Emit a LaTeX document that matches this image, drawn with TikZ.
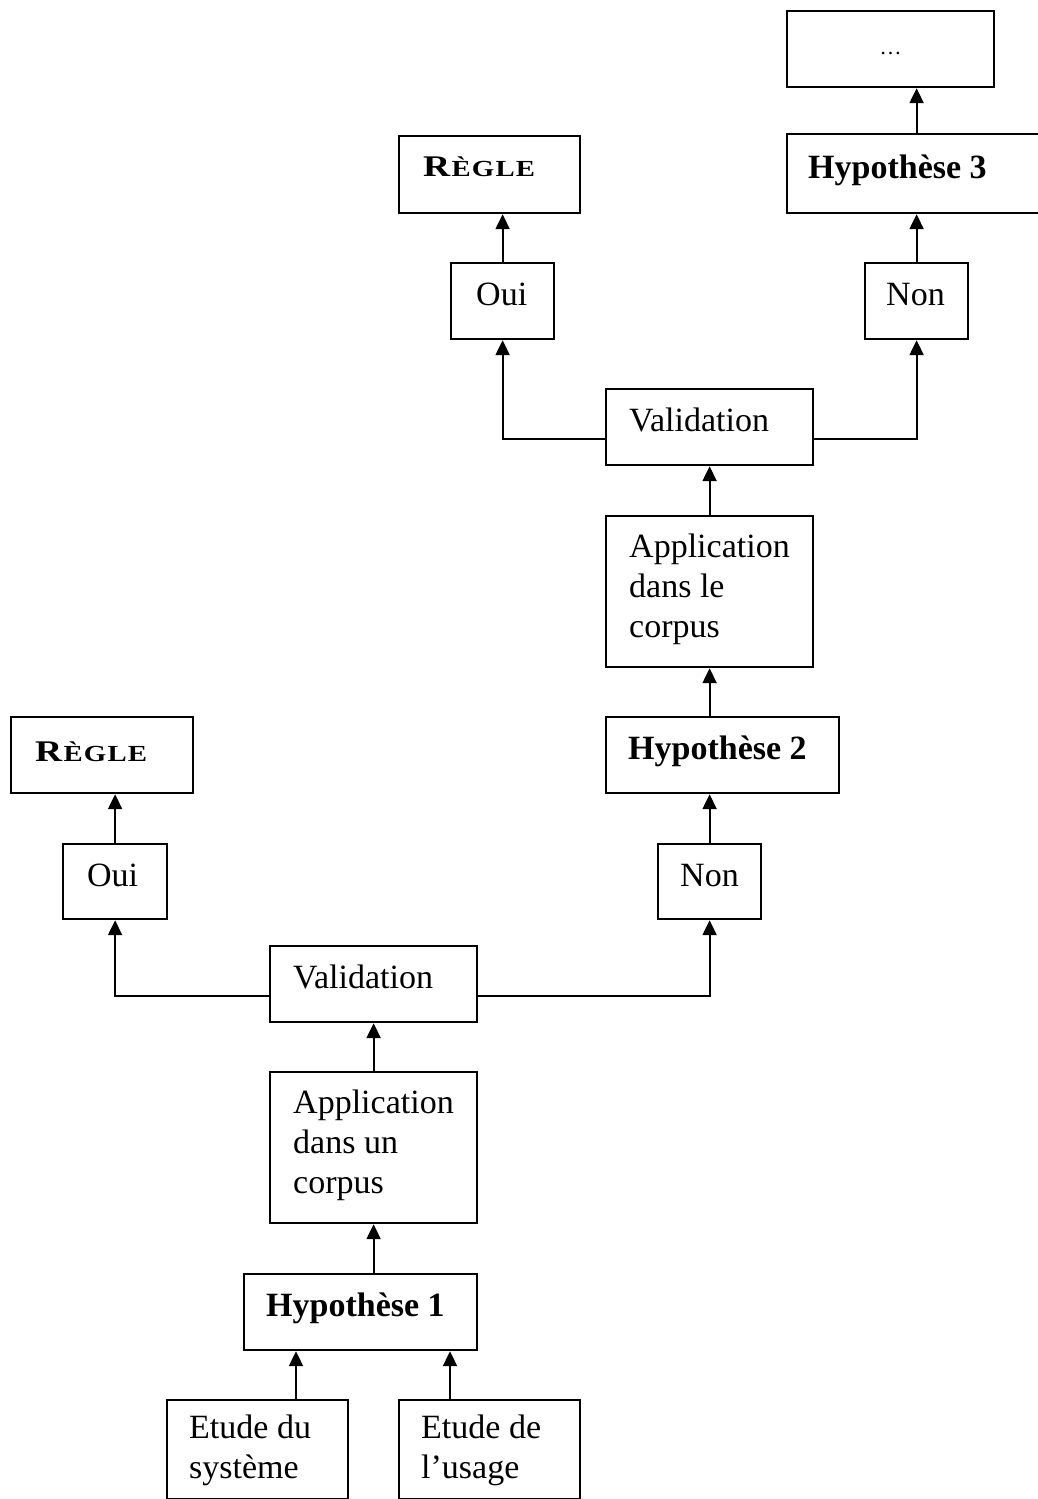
\documentclass[tikz,border=0pt]{standalone}
\usepackage{fontspec}
\usepackage{graphicx}
\setmainfont{Liberation Serif}
\usetikzlibrary{arrows.meta}
\newcommand\regletext{\scalebox{1.25}[1]{\bfseries\fontsize{30}{34}\selectfont R\kern1pt\fontsize{23}{27}\selectfont È\kern1pt G\kern1pt L\kern1pt E}}
\newcommand\lines[1]{\begin{tabular}[t]{@{}l@{}}#1\end{tabular}}
\begin{document}
\begin{tikzpicture}[x=1pt,y=-1pt,
  box/.style={draw, line width=2.2pt, inner sep=0pt, anchor=north west},
  txt/.style={anchor=base west, inner sep=0pt, font=\fontsize{34}{40}\selectfont},
  arr/.style={line width=2.2pt, -{Triangle[width=14pt,length=15pt]}}]
\useasboundingbox (0,0) rectangle (1038,1499);
% boxes
\node[box, minimum width=207pt, minimum height=76pt] (dots) at (786,10) {};
\node[box, minimum width=256pt, minimum height=79pt] (h3) at (786,133) {};
\node[box, minimum width=181pt, minimum height=77pt] (regle2) at (398,135) {};
\node[box, minimum width=103pt, minimum height=76pt] (oui2) at (450,262) {};
\node[box, minimum width=103pt, minimum height=76pt] (non2) at (864,262) {};
\node[box, minimum width=207pt, minimum height=76pt] (val2) at (605,388) {};
\node[box, minimum width=207pt, minimum height=151pt] (app2) at (605,515) {};
\node[box, minimum width=233pt, minimum height=76pt] (h2) at (605,716) {};
\node[box, minimum width=103pt, minimum height=75pt] (non1) at (657,843) {};
\node[box, minimum width=182pt, minimum height=76pt] (regle1) at (10,716) {};
\node[box, minimum width=104pt, minimum height=75pt] (oui1) at (62,843) {};
\node[box, minimum width=207pt, minimum height=76pt] (val1) at (269,945) {};
\node[box, minimum width=207pt, minimum height=151pt] (app1) at (269,1071) {};
\node[box, minimum width=233pt, minimum height=76pt] (h1) at (243,1273) {};
\node[box, minimum width=181pt, minimum height=99pt] (es) at (166,1399) {};
\node[box, minimum width=181pt, minimum height=99pt] (eu) at (398,1399) {};
% texts
\node[anchor=base, inner sep=0pt, font=\fontsize{22}{26}\selectfont] (dotst) at ([shift={(0,44)}]dots.north) {…};
\node[txt] (h3t) at ([shift={(22,45)}]h3.north west) {\bfseries Hypothèse 3};
\node[txt] (regle2t) at ([shift={(25,41)}]regle2.north west) {\regletext};
\node[txt] (oui2t) at ([shift={(26,43)}]oui2.north west) {Oui};
\node[txt] (non2t) at ([shift={(22,43)}]non2.north west) {Non};
\node[txt] (val2t) at ([shift={(24,43)}]val2.north west) {Validation};
\node[txt] (app2t) at ([shift={(24,42)}]app2.north west) {\lines{Application\\dans le\\corpus}};
\node[txt] (h2t) at ([shift={(23,43)}]h2.north west) {\bfseries Hypothèse 2};
\node[txt] (non1t) at ([shift={(23,43)}]non1.north west) {Non};
\node[txt] (regle1t) at ([shift={(25,45)}]regle1.north west) {\regletext};
\node[txt] (oui1t) at ([shift={(25,43)}]oui1.north west) {Oui};
\node[txt] (val1t) at ([shift={(24,43)}]val1.north west) {Validation};
\node[txt] (app1t) at ([shift={(24,42)}]app1.north west) {\lines{Application\\dans un\\corpus}};
\node[txt] (h1t) at ([shift={(23,43)}]h1.north west) {\bfseries Hypothèse 1};
\node[txt] (est) at ([shift={(23,39)}]es.north west) {\lines{Etude du\\système}};
\node[txt] (eut) at ([shift={(23,39)}]eu.north west) {\lines{Etude de\\l’usage}};
% connector x positions
\coordinate (xa) at (296,0);
\coordinate (xb) at (450,0);
% connectors
\draw[arr] (es.north -| xa) -- (h1.south -| xa);
\draw[arr] (eu.north -| xb) -- (h1.south -| xb);
\draw[arr] (h1.north -| app1.south) -- (app1.south);
\draw[arr] (app1.north) -- (val1.south);
\draw[arr] ([shift={(0,51)}]val1.north west) -| (oui1.south);
\draw[arr] ([shift={(0,51)}]val1.north east) -| (non1.south);
\draw[arr] (oui1.north) -- (regle1.south -| oui1.north);
\draw[arr] (non1.north) -- (h2.south -| non1.north);
\draw[arr] (h2.north -| app2.south) -- (app2.south);
\draw[arr] (app2.north) -- (val2.south);
\draw[arr] ([shift={(0,51)}]val2.north west) -| (oui2.south);
\draw[arr] ([shift={(0,51)}]val2.north east) -| (non2.south);
\draw[arr] (oui2.north) -- (regle2.south -| oui2.north);
\draw[arr] (non2.north) -- (h3.south -| non2.north);
\draw[arr] (h3.north -| non2.north) -- (dots.south -| non2.north);
\end{tikzpicture}
\end{document}
